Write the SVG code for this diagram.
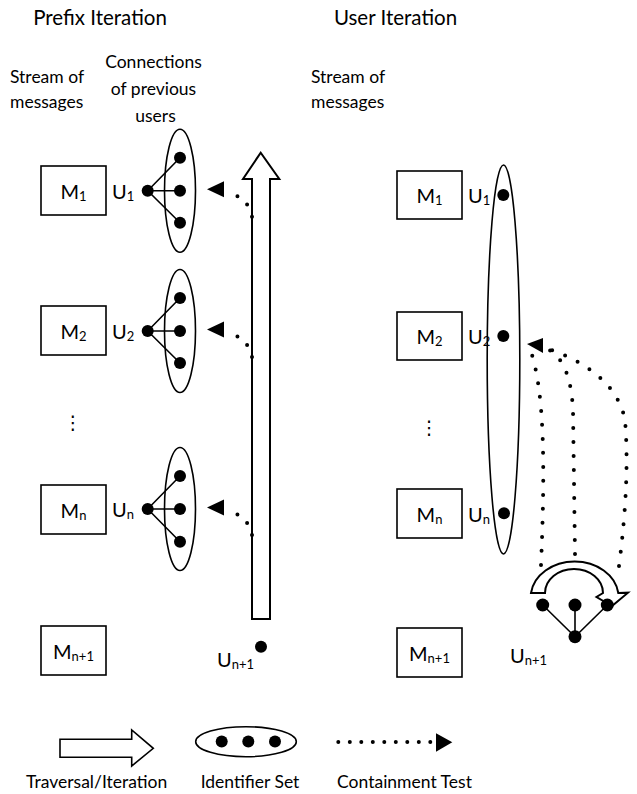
<svg xmlns="http://www.w3.org/2000/svg" width="637" height="794" viewBox="0 0 637 794">
<style>
text{font-family:Lato,"Liberation Sans",sans-serif;fill:#000}
.t{font-size:20.5px}
.h{font-size:17.5px}
.lab{font-size:20px}
.sub{font-size:13px}
.vd{font-family:"DejaVu Sans",sans-serif;font-size:19px}
.box{fill:#fff;stroke:#000;stroke-width:1.6}
.ell{fill:none;stroke:#000;stroke-width:1.6}
.dot{fill:#000}
.edge{stroke:#000;stroke-width:1.6;fill:none}
.dots{fill:none;stroke:#000;stroke-width:4;stroke-linecap:round;stroke-dasharray:0 13}
.hollow{fill:#fff;stroke:#000;stroke-width:2;stroke-linejoin:miter}
.tri{fill:#000}
</style>
<defs>
<polygon id="triL" class="tri" points="0,0 17,-8 17,8"/>
</defs>

<!-- headings -->
<g id="headings">
<text class="t" x="100" y="25" text-anchor="middle">Prefix Iteration</text>
<text class="t" x="395.5" y="25" text-anchor="middle">User Iteration</text>
<text class="h" x="10" y="83">Stream of</text>
<text class="h" x="10" y="108">messages</text>
<text class="h" x="153.5" y="68" text-anchor="middle">Connections</text>
<text class="h" x="153.5" y="95" text-anchor="middle">of previous</text>
<text class="h" x="155.5" y="122" text-anchor="middle">users</text>
<text class="h" x="311" y="83">Stream of</text>
<text class="h" x="311" y="108">messages</text>
</g>

<!-- big traversal arrow (left) -->
<g id="traversal-arrow">
<polygon class="hollow" points="252,619 252,179 243,179 260.7,152.7 279.3,179 270,179 270,619"/>
</g>

<!-- connectors -->
<g id="connectors">
<!-- left cluster edges -->
<path class="edge" d="M147.7,190.7 L180,157.7 M147.7,190.7 L180,190.7 M147.7,190.7 L180,222.7"/>
<path class="edge" d="M147.7,331 L180,298 M147.7,331 L180,331 M147.7,331 L180,363"/>
<path class="edge" d="M147.7,509 L180,476 M147.7,509 L180,509 M147.7,509 L180,541.7"/>
<!-- left containment tests -->
<path class="dots" d="M252,216.7 Q248,198.7 233,194.7"/>
<path class="dots" d="M252,357 Q248,339 233,335"/>
<path class="dots" d="M252,535 Q248,517 233,513"/>
<use href="#triL" x="207" y="189.2"/>
<use href="#triL" x="207" y="329.5"/>
<use href="#triL" x="207" y="507.5"/>
<!-- right U_{n+1} edges -->
<path class="edge" d="M575,636.7 L542.7,605 M575,636.7 L575,605 M575,636.7 L607.3,605"/>
<!-- right containment tests -->
<path class="dots" style="stroke-dasharray:0 14" d="M541,565 C545,470 545,390 530,349"/>
<path class="dots" style="stroke-dasharray:0 14" d="M575,554 L573,410 Q570,352 540,347"/>
<path class="dots" style="stroke-dasharray:0 14" d="M619,566 Q630,480 625,420 Q615,370 540,346"/>
<polygon class="tri" points="527,344 543,338 543,353"/>
</g>

<!-- left column -->
<g id="M1-left"><rect class="box" x="41" y="166" width="65" height="49"/><text class="lab" x="73.5" y="199" text-anchor="middle">M<tspan class="sub" dy="2">1</tspan></text></g>
<g id="M2-left"><rect class="box" x="41" y="306" width="65" height="49"/><text class="lab" x="73.5" y="339" text-anchor="middle">M<tspan class="sub" dy="2">2</tspan></text></g>
<g id="ellipsis-left"><text class="vd" x="73" y="429" text-anchor="middle">⋮</text></g>
<g id="Mn-left"><rect class="box" x="41" y="485" width="65" height="49"/><text class="lab" x="73.5" y="518" text-anchor="middle">M<tspan class="sub" dy="2">n</tspan></text></g>
<g id="Mn1-left"><rect class="box" x="41" y="626" width="65" height="49"/><text class="lab" x="73.5" y="659" text-anchor="middle">M<tspan class="sub" dy="2">n+1</tspan></text></g>

<g id="U1-left">
<text class="lab" x="112" y="199">U<tspan class="sub" dy="2">1</tspan></text>
<ellipse class="ell" cx="180" cy="190.7" rx="15.5" ry="61.5"/>
<circle class="dot" cx="147.7" cy="190.7" r="6"/>
<circle class="dot" cx="180" cy="157.7" r="6"/>
<circle class="dot" cx="180" cy="190.7" r="6"/>
<circle class="dot" cx="180" cy="222.7" r="6"/>
</g>
<g id="U2-left">
<text class="lab" x="112" y="339">U<tspan class="sub" dy="2">2</tspan></text>
<ellipse class="ell" cx="180" cy="331" rx="15.5" ry="61.5"/>
<circle class="dot" cx="147.7" cy="331" r="6"/>
<circle class="dot" cx="180" cy="298" r="6"/>
<circle class="dot" cx="180" cy="331" r="6"/>
<circle class="dot" cx="180" cy="363" r="6"/>
</g>
<g id="Un-left">
<text class="lab" x="112" y="517">U<tspan class="sub" dy="2">n</tspan></text>
<ellipse class="ell" cx="180" cy="509" rx="15.5" ry="61.5"/>
<circle class="dot" cx="147.7" cy="509" r="6"/>
<circle class="dot" cx="180" cy="476" r="6"/>
<circle class="dot" cx="180" cy="509" r="6"/>
<circle class="dot" cx="180" cy="541.7" r="6"/>
</g>
<g id="Un1-left">
<circle class="dot" cx="261" cy="646.7" r="6"/>
<text class="lab" x="217" y="667">U<tspan class="sub" dy="2">n+1</tspan></text>
</g>

<!-- right column -->
<g id="M1-right"><rect class="box" x="397" y="171" width="65" height="48"/><text class="lab" x="429.5" y="203" text-anchor="middle">M<tspan class="sub" dy="2">1</tspan></text></g>
<g id="M2-right"><rect class="box" x="397" y="312" width="65" height="48"/><text class="lab" x="429.5" y="344" text-anchor="middle">M<tspan class="sub" dy="2">2</tspan></text></g>
<g id="ellipsis-right"><text class="vd" x="429.3" y="434" text-anchor="middle">⋮</text></g>
<g id="Mn-right"><rect class="box" x="397" y="489" width="65" height="49"/><text class="lab" x="429.5" y="522" text-anchor="middle">M<tspan class="sub" dy="2">n</tspan></text></g>
<g id="Mn1-right"><rect class="box" x="397" y="628" width="65" height="49"/><text class="lab" x="429.5" y="661" text-anchor="middle">M<tspan class="sub" dy="2">n+1</tspan></text></g>

<g id="user-set-right">
<ellipse class="ell" cx="503.5" cy="359.5" rx="16.3" ry="194.5"/>
<circle class="dot" cx="503.3" cy="195" r="6"/>
<circle class="dot" cx="503.3" cy="336" r="6"/>
<circle class="dot" cx="504" cy="513.3" r="6"/>
<text class="lab" x="468" y="203">U<tspan class="sub" dy="2">1</tspan></text>
<text class="lab" x="468" y="344">U<tspan class="sub" dy="2">2</tspan></text>
<text class="lab" x="468" y="521.5">U<tspan class="sub" dy="2">n</tspan></text>
</g>

<g id="uturn-arrow">
<path class="hollow" d="M531,593 A44,36 0 0 1 618.3,593 L628,592.7 L612,606 L596.5,597 L603,593 A29,24 0 0 0 545,593 Z"/>
</g>

<g id="Un1-right">
<circle class="dot" cx="542.7" cy="605" r="6.5"/>
<circle class="dot" cx="575" cy="605" r="6.5"/>
<circle class="dot" cx="607.3" cy="605" r="6.5"/>
<circle class="dot" cx="575" cy="636.7" r="6.5"/>
<text class="lab" x="510" y="662.7">U<tspan class="sub" dy="2">n+1</tspan></text>
</g>

<!-- legend -->
<g id="legend-traversal">
<polygon class="hollow" style="stroke-width:1.6" points="60,739.3 131.7,739.3 131.7,730 153.3,748.3 131.7,766 131.7,757.3 60,757.3"/>
<text class="h" x="96.7" y="788" text-anchor="middle">Traversal/Iteration</text>
</g>
<g id="legend-set">
<ellipse class="ell" cx="246" cy="741.7" rx="50.3" ry="15"/>
<circle class="dot" cx="221.7" cy="741.5" r="6"/>
<circle class="dot" cx="248.3" cy="741.5" r="6"/>
<circle class="dot" cx="275" cy="741.5" r="6"/>
<text class="h" x="250" y="788" text-anchor="middle">Identifier Set</text>
</g>
<g id="legend-containment">
<path class="dots" style="stroke-dasharray:0 11.5" d="M338.3,742 L432,742"/>
<polygon class="tri" points="436,733.3 452.3,742.3 436,751.7"/>
<text class="h" x="404.5" y="788" text-anchor="middle">Containment Test</text>
</g>
</svg>
